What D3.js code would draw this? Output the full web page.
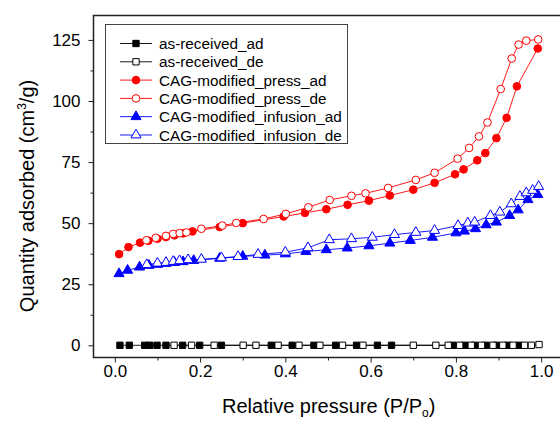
<!DOCTYPE html>
<html>
<head>
    <meta charset="UTF-8">
    <title>Isotherms</title>
    <script src="https://d3js.org/d3.v7.min.js"></script>
    <style type="text/css">
        body { margin: 0; background: #fff; }
        svg text { font-family: Arial, "Liberation Sans", sans-serif; fill: #000; }
        .tick text { font-size: 17px; }
        .label { font-size: 20px; }
        .legend text { font-size: 15.3px; }
    </style>
</head>
<body>
<script type="text/javascript">
    // x tick labels
    const xTicks = [0, 0.2, 0.4, 0.6, 0.8, 1.0];
    const xMinor = [0.1, 0.3, 0.5, 0.7, 0.9];
    const yTicks = [0, 25, 50, 75, 100, 125];
    const yMinor = [12.5, 37.5, 62.5, 87.5, 112.5];

    // as-received (all close to zero)
    const recAdP = [0.012, 0.034, 0.070, 0.082, 0.099, 0.120, 0.159, 0.199, 0.250, 0.367, 0.416, 0.467, 0.518, 0.567, 0.616, 0.649, 0.793, 0.821, 0.844, 0.871, 0.895, 0.922, 0.948];
    const recAdV = [0, 0, 0, 0, 0, 0, 0, 0, 0, 0, 0, 0, 0, 0, 0, 0, 0, 0, 0, 0, 0, 0, 0];
    const recDeP = [0.139, 0.180, 0.233, 0.301, 0.331, 0.383, 0.432, 0.481, 0.534, 0.582, 0.700, 0.753, 0.782, 0.809, 0.836, 0.860, 0.887, 0.910, 0.934, 0.961, 0.977, 0.995];
    const recDeV = [0, 0, 0, 0, 0, 0, 0, 0, 0, 0, 0, 0, 0, 0, 0, 0, 0, 0, 0, 0, 0, 0.3];

    // CAG-modified press
    const pressAdP = [0.010, 0.032, 0.059, 0.079, 0.100, 0.120, 0.140, 0.160, 0.182, 0.246, 0.300, 0.396, 0.446, 0.496, 0.546, 0.596, 0.645, 0.700, 0.750, 0.798, 0.818, 0.850, 0.869, 0.895, 0.919, 0.943, 0.992];
    const pressAdV = [37.3, 40.2, 42.0, 42.8, 43.6, 44.3, 45.0, 45.8, 46.6, 48.4, 50.0, 52.7, 54.2, 55.7, 57.5, 59.2, 61.3, 63.7, 66.5, 70.0, 72.0, 75.7, 78.7, 84.8, 93.1, 106.0, 121.5];
    const pressDeP = [0.074, 0.096, 0.120, 0.137, 0.152, 0.168, 0.203, 0.252, 0.285, 0.349, 0.401, 0.454, 0.504, 0.555, 0.588, 0.641, 0.706, 0.750, 0.804, 0.831, 0.854, 0.874, 0.905, 0.931, 0.947, 0.965, 0.993];
    const pressDeV = [43.0, 44.0, 44.8, 45.6, 45.9, 46.2, 47.7, 49.0, 50.1, 51.7, 53.8, 56.5, 59.5, 61.2, 62.2, 64.4, 67.7, 70.6, 76.4, 80.8, 85.5, 91.2, 104.9, 117.4, 123.1, 124.7, 125.2];

    // CAG-modified infusion
    const infAdP = [0.010, 0.030, 0.058, 0.080, 0.100, 0.120, 0.140, 0.160, 0.185, 0.246, 0.300, 0.352, 0.400, 0.448, 0.496, 0.545, 0.596, 0.645, 0.693, 0.745, 0.800, 0.820, 0.846, 0.871, 0.895, 0.926, 0.946, 0.969, 0.992];
    const infAdV = [29.3, 30.7, 32.0, 32.7, 33.1, 33.5, 33.9, 34.2, 34.7, 35.6, 36.4, 36.9, 37.4, 38.4, 39.1, 39.8, 40.7, 41.8, 42.9, 44.2, 46.0, 46.7, 47.7, 49.3, 50.4, 53.1, 55.4, 59.6, 61.7];
    const infDeP = [0.075, 0.100, 0.120, 0.137, 0.152, 0.172, 0.203, 0.250, 0.289, 0.336, 0.400, 0.453, 0.503, 0.555, 0.604, 0.656, 0.706, 0.750, 0.805, 0.828, 0.844, 0.881, 0.903, 0.930, 0.950, 0.965, 0.980, 0.994];
    const infDeV = [33.0, 33.6, 33.9, 34.3, 34.6, 35.0, 35.2, 35.8, 36.3, 37.2, 38.1, 39.9, 43.2, 43.6, 44.2, 45.3, 46.2, 47.0, 49.0, 50.0, 50.4, 53.1, 54.5, 57.9, 60.9, 62.4, 63.4, 65.0];

    const seriesNames = ["as-received_ad", "as-received_de", "CAG-modified_press_ad", "CAG-modified_press_de", "CAG-modified_infusion_ad", "CAG-modified_infusion_de"];

    const series = [
        { name: seriesNames[0], p: recAdP, v: recAdV, color: "#000", shape: d3.symbolSquare, filled: true },
        { name: seriesNames[1], p: recDeP, v: recDeV, color: "#000", shape: d3.symbolSquare, filled: false },
        { name: seriesNames[2], p: pressAdP, v: pressAdV, color: "#ff0000", shape: d3.symbolCircle, filled: true },
        { name: seriesNames[3], p: pressDeP, v: pressDeV, color: "#ff0000", shape: d3.symbolCircle, filled: false },
        { name: seriesNames[4], p: infAdP, v: infAdV, color: "#0000ff", shape: d3.symbolTriangle, filled: true },
        { name: seriesNames[5], p: infDeP, v: infDeV, color: "#0000ff", shape: d3.symbolTriangle, filled: false }
    ];

    const width = 560, height = 421;

    const svg = d3.select("body").append("svg")
        .attr("width", width)
        .attr("height", height);

    const x = d3.scaleLinear().domain([-0.05, 1.05]).range([93.5, 562.5]);
    const y = d3.scaleLinear().domain([-5, 135]).range([357.5, 15.5]);

    // symbol sizes (area)
    function symSize(shape) {
        if (shape === d3.symbolSquare) return 40;
        if (shape === d3.symbolTriangle) return 44;
        return 46;
    }

    // frame
    svg.append("rect")
        .attr("x", x(-0.05)).attr("y", y(135))
        .attr("width", x(1.05) - x(-0.05))
        .attr("height", y(-5) - y(135))
        .attr("fill", "none")
        .attr("stroke", "#222")
        .attr("stroke-width", 1.5);

    // axes
    svg.append("g")
        .attr("transform", `translate(0,${y(-5)})`)
        .call(d3.axisBottom(x).tickValues(xTicks).tickSize(5).tickPadding(2).tickFormat(d3.format(".1f")));
    svg.append("g")
        .attr("transform", `translate(0,${y(-5)})`)
        .call(d3.axisBottom(x).tickValues(xMinor).tickSize(3).tickFormat(""));

    svg.append("g")
        .attr("transform", `translate(${x(-0.05)},0)`)
        .call(d3.axisLeft(y).tickValues(yTicks).tickSize(5).tickPadding(8));
    svg.append("g")
        .attr("transform", `translate(${x(-0.05)},0)`)
        .call(d3.axisLeft(y).tickValues(yMinor).tickSize(3).tickFormat(""));

    svg.selectAll(".domain").remove();
    svg.selectAll(".tick line").attr("stroke", "#222");
    svg.selectAll(".tick text").attr("font-family", null).attr("font-size", null).attr("fill", "#000");

    // axis titles
    const xt = svg.append("text")
        .attr("class", "label")
        .attr("x", 222)
        .attr("y", 413)
        .text("Relative pressure (P/P");
    xt.append("tspan").attr("font-size", "12px").attr("dy", 4).text("o");
    xt.append("tspan").attr("dy", -4).text(")");

    const yt = svg.append("text")
        .attr("class", "label")
        .attr("transform", "translate(34,196) rotate(-90)")
        .attr("text-anchor", "middle")
        .text("Quantity adsorbed (cm");
    yt.append("tspan").attr("font-size", "12px").attr("dy", -8).text("3");
    yt.append("tspan").attr("dy", 8).text("/g)");

    // series lines and markers
    const line = d3.line().x(d => x(d[0])).y(d => y(d[1]));

    series.forEach(s => {
        const pts = s.p.map((p, i) => [p, s.v[i]]);
        svg.append("path")
            .datum(pts)
            .attr("fill", "none")
            .attr("stroke", s.color)
            .attr("stroke-width", 0.9)
            .attr("d", line);
        svg.append("g").selectAll("path")
            .data(pts)
            .join("path")
            .attr("transform", d => `translate(${x(d[0])},${y(d[1])})`)
            .attr("d", d3.symbol().type(s.shape).size(symSize(s.shape)))
            .attr("fill", s.filled ? s.color : "#fff")
            .attr("stroke", s.color)
            .attr("stroke-width", 1);
    });

    // legend
    const legend = svg.append("g").attr("class", "legend");
    legend.append("rect")
        .attr("x", 105.5).attr("y", 24.5)
        .attr("width", 242).attr("height", 119)
        .attr("fill", "#fff")
        .attr("stroke", "#444")
        .attr("stroke-width", 1);

    series.forEach((s, i) => {
        const ly = 43.5 + i * 18.3;
        legend.append("line")
            .attr("x1", 120).attr("x2", 152)
            .attr("y1", ly).attr("y2", ly)
            .attr("stroke", s.color)
            .attr("stroke-width", 0.9);
        legend.append("path")
            .attr("transform", `translate(136,${ly})`)
            .attr("d", d3.symbol().type(s.shape).size(symSize(s.shape)))
            .attr("fill", s.filled ? s.color : "#fff")
            .attr("stroke", s.color)
            .attr("stroke-width", 1);
        legend.append("text")
            .attr("x", 159)
            .attr("y", ly + 5.5)
            .text(s.name);
    });
</script>
</body>
</html>
